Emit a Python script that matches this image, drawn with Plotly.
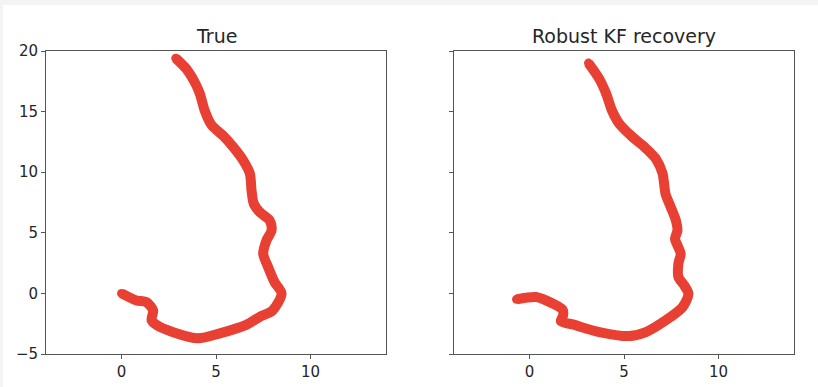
import plotly.graph_objects as go

# ---- data ----
true_x = [0.0, 0.79, 1.32, 1.67, 1.59, 1.85, 2.73, 4.05, 5.2, 6.6, 7.3, 8.0, 8.47, 8.1, 7.76, 7.5,
          7.67, 7.94, 7.85, 7.32, 7.0, 6.88, 6.79, 6.43, 5.9, 5.38, 4.76, 4.4, 4.14, 3.88, 3.44, 2.87]
true_y = [0.0, -0.58, -0.72, -1.4, -2.2, -2.6, -3.2, -3.7, -3.3, -2.6, -1.95, -1.4, 0.0, 0.93, 2.17, 3.27,
          4.37, 5.2, 6.0, 6.7, 7.4, 8.5, 9.9, 11.0, 12.1, 13.0, 13.9, 15.1, 16.5, 17.4, 18.5, 19.4]

kf_x = [-0.69, 0.34, 0.87, 1.75, 1.78, 1.66, 2.28, 3.69, 5.27, 6.16, 7.2, 8.1, 8.41, 8.19, 7.88, 7.88,
        8.0, 7.83, 7.7, 7.83, 7.75, 7.48, 7.2, 7.04, 6.69, 6.07, 5.45, 4.75, 4.36, 4.05, 3.69, 3.12]
kf_y = [-0.49, -0.3, -0.58, -1.35, -1.8, -2.3, -2.56, -3.19, -3.52, -3.19, -2.23, -1.13, -0.03, 0.66, 1.35, 2.45,
        3.27, 3.96, 4.5, 5.2, 6.0, 7.1, 8.2, 9.9, 11.1, 12.1, 12.9, 14.0, 15.1, 16.5, 17.7, 19.0]

titles = ["True", "Robust KF recovery"]
x_ticks = [0, 5, 10]
y_ticks = [-5, 0, 5, 10, 15, 20]
x_range = [-4, 14]
y_range = [-5, 20]

# ---- styling ----
RED = "rgb(231,50,36)"
AX = "#555555"
TXT = "#262626"
FONT = "DejaVu Sans"
W, H = 818, 387

fig = go.Figure()
for i, (xs, ys) in enumerate([(true_x, true_y), (kf_x, kf_y)]):
    ax = "" if i == 0 else "2"
    fig.add_trace(go.Scatter(
        x=xs, y=ys, mode="lines+markers",
        line=dict(color=RED, width=10, shape="spline", smoothing=0.8),
        marker=dict(color=RED, size=9, line=dict(width=0)),
        opacity=0.93,
        xaxis="x" + ax, yaxis="y" + ax, showlegend=False, hoverinfo="skip",
    ))

y_dom = [1 - 354 / H, 1 - 51 / H]
doms = [[46 / W, 386 / W], [454 / W, 794 / W]]

common_axis = dict(
    showgrid=False, zeroline=False, showline=True, linecolor=AX, linewidth=1,
    mirror=True, ticks="outside", ticklen=4, tickwidth=1, tickcolor=AX, automargin=False,
    tickfont=dict(family=FONT, size=15, color=TXT),
)

layout = dict(
    width=W, height=H,
    margin=dict(l=0, r=0, t=0, b=0, autoexpand=False),
    paper_bgcolor="#f4f4f4", plot_bgcolor="white",
    xaxis=dict(domain=doms[0], range=x_range, tickvals=x_ticks, anchor="y", **common_axis),
    yaxis=dict(domain=y_dom, range=y_range, tickvals=y_ticks, anchor="x", **common_axis),
    xaxis2=dict(domain=doms[1], range=x_range, tickvals=x_ticks, anchor="y2", **common_axis),
    yaxis2=dict(domain=y_dom, range=y_range, tickvals=y_ticks, anchor="x2", showticklabels=False,
                **common_axis),
    shapes=[dict(type="rect", xref="paper", yref="paper", x0=3 / W, x1=1, y0=0, y1=1 - 5 / H,
                 fillcolor="white", line=dict(width=0), layer="below")],
    annotations=[
        dict(text=titles[0], xref="paper", yref="paper", x=sum(doms[0]) / 2, y=1 - 36 / H,
             xanchor="center", yanchor="middle", showarrow=False,
             font=dict(family=FONT, size=19, color=TXT)),
        dict(text=titles[1], xref="paper", yref="paper", x=sum(doms[1]) / 2, y=1 - 36 / H,
             xanchor="center", yanchor="middle", showarrow=False,
             font=dict(family=FONT, size=19, color=TXT)),
    ],
)
fig.update_layout(**layout)
fig.write_html("out.html")
